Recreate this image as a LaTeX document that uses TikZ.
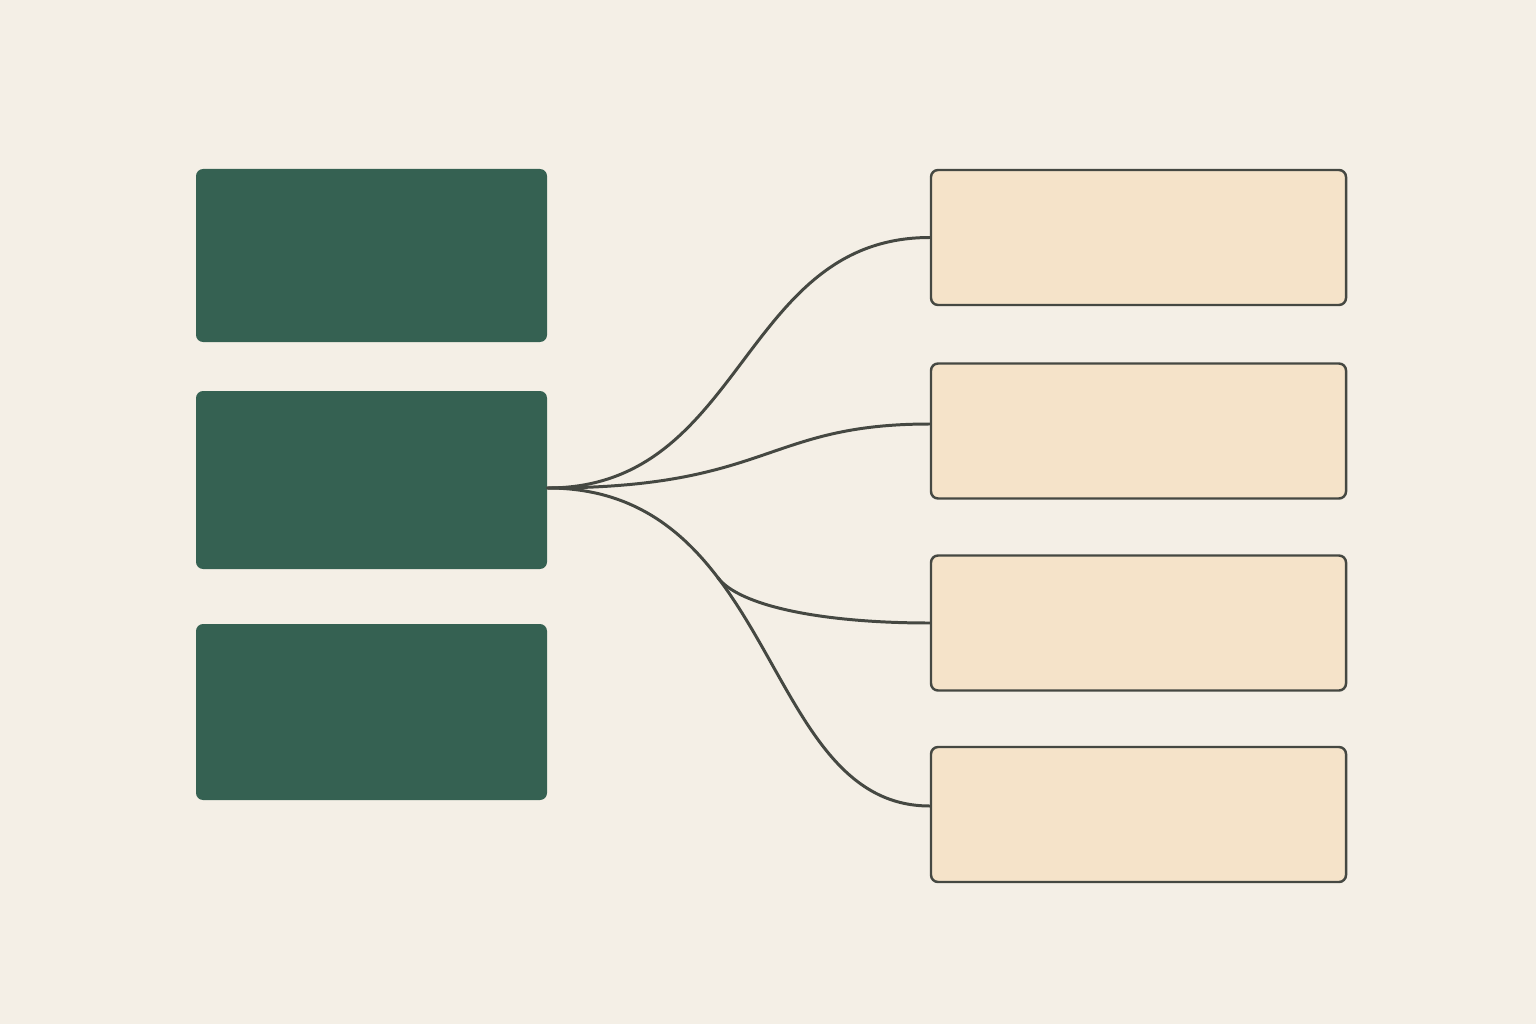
\documentclass[tikz,border=0pt]{standalone}
\usepackage{tikz}
\usetikzlibrary{positioning}
\definecolor{paper}{HTML}{F4EFE6}
\definecolor{pine}{HTML}{356152}
\definecolor{sand}{HTML}{F5E3C9}
\definecolor{ink}{HTML}{454842}
\begin{document}
\begin{tikzpicture}
      [srcbox/.style={shape=rectangle,fill=pine,rounded corners=2pt,minimum width=3.51cm,inner sep=0pt},
      dstbox/.style={shape=rectangle,fill=sand,draw=ink,line width=0.7pt,rounded corners=2pt,minimum width=4.15cm,minimum height=1.35cm,inner sep=0pt},
      wire/.style={draw=ink,line width=0.85pt,line cap=round}]
\fill[paper] (0,0) rectangle (15.36,10.24);
\useasboundingbox (0,0) rectangle (15.36,10.24);
\node[srcbox,minimum height=1.73cm] (src1) at (3.715,7.685) {};
\node[srcbox,minimum height=1.78cm] (src2) at (3.715,5.44) {};
\node[srcbox,minimum height=1.76cm] (src3) at (3.715,3.12) {};
\node[dstbox] (dst1) at (11.385,7.865) {};
\node[dstbox] (dst2) at (11.385,5.93) {};
\node[dstbox] (dst3) at (11.385,4.01) {};
\node[dstbox] (dst4) at (11.385,2.095) {};
\coordinate (hub) at ([yshift=-0.08cm]src2.east);

\draw[wire] (hub) .. controls (7.45,5.36) and (7.4,7.865) .. (dst1.west);
\draw[wire] (hub) .. controls (7.7,5.36) and (7.65,6.0) .. ([yshift=0.07cm]dst2.west);
\draw[wire] (hub) .. controls (7.8,5.36) and (7.6,2.18) .. ([yshift=0.085cm]dst4.west)
   coordinate[pos=0.35] (fork);
% third branch leaves the lowest wire
\draw[wire] (fork) .. controls +(-53:0.35) and (8.2,4.01) .. (dst3.west);
\end{tikzpicture}
\end{document}
